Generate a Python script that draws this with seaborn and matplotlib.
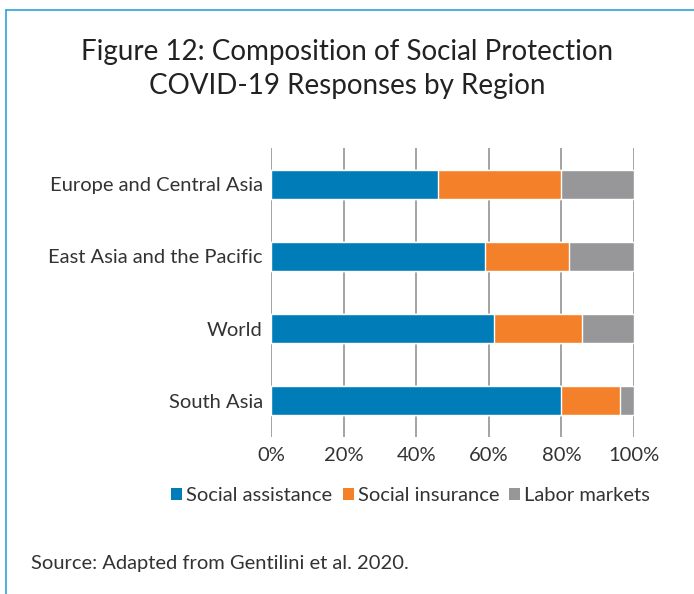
import seaborn as sns
import matplotlib.pyplot as plt
import pandas as pd
from matplotlib.lines import Line2D
from matplotlib.patches import Patch

sns.set_theme(style="white")
plt.rcParams['font.family'] = ['Lato', 'DejaVu Sans']

regions = ["Europe and Central Asia", "East Asia and the Pacific", "World", "South Asia"]
social_assistance = [46, 59, 61.3, 80]
social_insurance = [34, 23.1, 24.4, 16.1]
labor_markets = [20, 17.9, 14.3, 3.9]
series = ["Social assistance", "Social insurance", "Labor markets"]
colors = ["#007DB8", "#F4812A", "#97979A"]

df = pd.DataFrame({"region": regions, "sa": social_assistance,
                   "si": social_insurance, "lm": labor_markets})
df["cum_si"] = df["sa"] + df["si"]
df["cum_lm"] = df["cum_si"] + df["lm"]

fig = plt.figure(figsize=(6.94, 5.94), dpi=100)
ax = fig.add_axes([0.3905, 0.2643, 0.523, 0.4865])

# stacked bars, drawn back to front
sns.barplot(data=df, y="region", x="cum_lm", color=colors[2], width=0.4, saturation=1, ax=ax, orient="h")
sns.barplot(data=df, y="region", x="cum_si", color=colors[1], width=0.4, saturation=1, ax=ax, orient="h")
sns.barplot(data=df, y="region", x="sa", color=colors[0], width=0.4, saturation=1, ax=ax, orient="h")

ax.set_xlim(0, 100)
ax.set_ylim(3.5, -0.5)
ax.set_xticks([0, 20, 40, 60, 80, 100])
ax.set_xticklabels(["0%", "20%", "40%", "60%", "80%", "100%"])
ax.xaxis.grid(True, color="#8a8a8a", linewidth=1.1)
ax.set_axisbelow(True)
for s in ax.spines.values():
    s.set_visible(False)
ax.set_xlabel("")
ax.set_ylabel("")
ax.tick_params(axis="x", length=0, pad=7, labelsize=14.5, labelcolor="#333333")
ax.tick_params(axis="y", length=0, pad=6, labelsize=14.5, labelcolor="#333333")

fig.text(0.5, 0.935, "Figure 12: Composition of Social Protection\nCOVID-19 Responses by Region",
         ha="center", va="top", fontsize=20, color="#222222", linespacing=1.4)

handles = [Patch(facecolor=c, edgecolor="none") for c in colors]
fig.legend(handles, series, loc="center", bbox_to_anchor=(0.592, 0.166), ncol=3,
           frameon=False, fontsize=14.5, handlelength=0.55, handleheight=0.55,
           handletextpad=0.2, columnspacing=0.5, labelcolor="#333333")

fig.text(0.045, 0.052, "Source: Adapted from Gentilini et al. 2020.", fontsize=14.5,
         color="#333333", ha="left", va="center")

# frame lines at top and left
fig.add_artist(Line2D([0.009, 1.0], [0.983, 0.983], color="#2CA3DB", linewidth=1.2))
fig.add_artist(Line2D([0.009, 0.009], [0.0, 0.983], color="#2CA3DB", linewidth=1.2))

plt.savefig("out.png", dpi=100)
